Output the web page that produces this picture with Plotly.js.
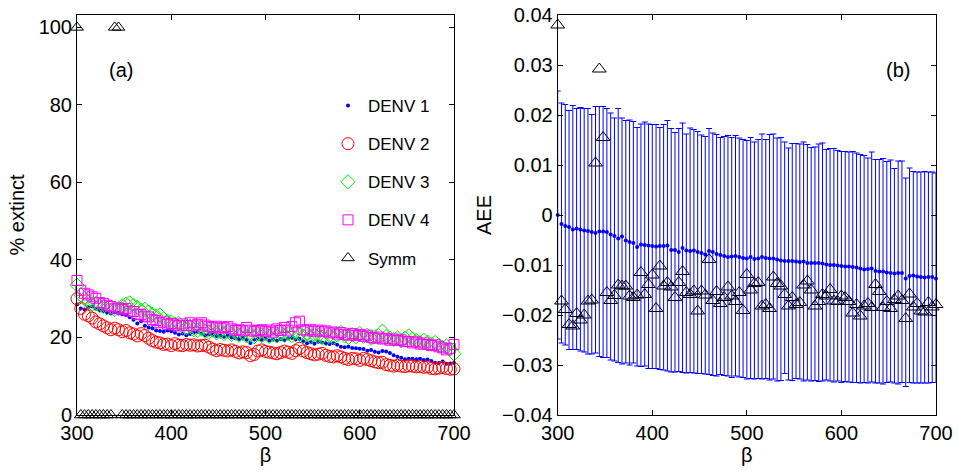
<!DOCTYPE html>
<html>
<head>
<meta charset="utf-8">
<script src="https://cdn.plot.ly/plotly-3.0.1.min.js"></script>
<style>html,body{margin:0;padding:0;background:#fff;}#chart{width:959px;height:473px;}</style>
</head>
<body>
<div id="chart"></div>
<script>
// beta values (x)
const beta = [
300,304,308,312,316,320,324,328,332,336,
340,344,348,352,356,360,364,368,372,376,
380,384,388,392,396,400,404,408,412,416,
420,424,428,432,436,440,444,448,452,456,
460,464,468,472,476,480,484,488,492,496,
500,504,508,512,516,520,524,528,532,536,
540,544,548,552,556,560,564,568,572,576,
580,584,588,592,596,600,604,608,612,616,
620,624,628,632,636,640,644,648,652,656,
660,664,668,672,676,680,684,688,692,696,
700];

// panel (a): % extinct
const denv1 = [
28.5,27.5,27.2,27.8,28.0,27.4,27.0,26.8,26.5,26.2,
26.5,26.3,26.0,25.8,25.2,24.6,23.6,24.2,23.0,22.6,
22.4,21.8,21.7,21.5,21.8,21.6,21.2,20.8,21.0,20.6,
20.9,21.3,21.5,21.0,20.6,20.8,20.7,20.4,20.5,20.2,
20.6,20.0,19.8,19.6,19.9,19.4,18.6,19.5,19.6,19.4,
19.8,19.2,19.5,19.2,19.6,19.3,19.8,19.9,19.5,19.7,
19.0,18.5,18.8,18.4,18.9,18.7,18.5,18.3,18.5,18.1,
17.6,17.5,17.6,17.3,17.2,17.1,17.0,16.6,16.8,16.3,
16.1,16.5,16.4,16.0,15.4,15.0,14.8,14.4,14.5,14.5,
14.4,14.5,14.2,14.3,13.9,13.5,13.4,13.8,13.2,13.3,
13.4];
const denv2 = [
30.0,27.5,26.0,25.6,25.0,24.0,23.5,23.0,22.5,22.0,
22.4,22.0,21.5,21.8,21.2,20.9,20.4,21.0,20.5,19.8,
19.2,18.8,18.6,18.2,18.3,17.9,18.4,18.0,17.9,18.2,
18.0,18.1,17.8,17.9,18.0,17.5,17.0,16.6,16.9,16.7,
16.5,16.8,16.4,16.0,16.3,16.1,15.3,15.6,16.5,16.8,
16.4,16.2,16.0,15.8,16.1,16.5,16.2,15.9,16.6,17.2,
16.5,16.1,15.8,15.5,15.7,15.9,15.4,15.1,15.0,15.3,
15.0,14.6,14.3,14.6,14.5,14.1,14.6,14.3,14.0,13.7,
13.5,13.6,13.0,12.8,12.6,12.8,12.6,12.5,12.7,12.6,
12.4,12.5,12.3,12.4,12.0,11.9,12.1,12.3,12.0,11.8,
11.9];
const denv3 = [
33.5,31.0,30.0,29.2,28.6,28.8,28.2,28.0,27.6,27.8,
27.2,27.5,28.2,28.6,28.9,28.3,27.8,27.0,27.3,26.6,
26.0,25.5,25.8,24.8,24.2,24.0,23.4,23.6,22.8,22.5,
22.9,22.0,21.8,22.4,21.6,21.4,21.9,21.2,21.5,21.0,
21.6,20.8,21.3,20.6,21.0,20.4,20.8,20.2,20.9,20.5,
21.0,20.3,20.8,20.4,21.2,20.6,21.0,20.5,21.4,20.8,
20.3,20.9,20.2,20.7,20.5,20.1,19.6,20.5,20.0,20.6,
21.3,20.4,20.0,20.7,20.2,21.0,20.3,20.6,19.8,20.2,
20.5,21.6,20.2,19.8,19.5,19.9,19.2,19.8,20.4,19.6,
19.2,18.6,19.3,18.8,18.3,18.7,18.0,17.4,17.8,17.0,
15.8];
const denv4 = [
34.7,32.2,31.4,31.0,30.5,30.1,29.0,28.8,28.3,28.0,
27.4,27.6,27.2,27.5,26.8,26.7,26.0,25.9,25.5,25.3,
24.6,24.4,23.8,24.0,23.4,23.6,23.2,23.0,23.5,23.1,
23.8,23.0,23.4,23.8,23.2,22.8,22.6,22.9,22.4,22.6,
22.8,22.2,21.8,22.0,21.7,22.6,21.9,21.6,21.8,22.0,
21.5,21.9,21.4,22.2,21.8,22.6,21.9,22.8,23.8,24.2,
22.0,21.7,22.0,21.6,21.9,21.5,21.7,21.2,21.4,20.9,
21.3,20.8,20.6,21.0,20.5,20.8,20.3,20.6,20.0,19.8,
20.1,19.6,19.8,19.3,19.6,19.2,19.4,18.9,19.0,18.6,
18.9,18.3,18.6,18.2,17.9,18.1,17.6,17.3,16.8,17.2,
18.2];
const symmExtinct = [
100,0,0,0,0,0,0,0,0,0,
100,100,0,0,0,0,0,0,0,0,
0,0,0,0,0,0,0,0,0,0,
0,0,0,0,0,0,0,0,0,0,
0,0,0,0,0,0,0,0,0,0,
0,0,0,0,0,0,0,0,0,0,
0,0,0,0,0,0,0,0,0,0,
0,0,0,0,0,0,0,0,0,0,
0,0,0,0,0,0,0,0,0,0,
0,0,0,0,0,0,0,0,0,0,
0];

// panel (b): AEE
const aeeMean = [
0.0000,-0.0018,-0.0022,-0.0024,-0.0029,-0.0027,-0.0029,-0.0031,-0.0032,-0.0034,
-0.0036,-0.0033,-0.0033,-0.0034,-0.0039,-0.0042,-0.0047,-0.0043,-0.0051,-0.0054,
-0.0056,-0.0064,-0.0059,-0.0060,-0.0061,-0.0062,-0.0063,-0.0062,-0.0062,-0.0061,
-0.0070,-0.0070,-0.0074,-0.0066,-0.0071,-0.0072,-0.0071,-0.0074,-0.0076,-0.0079,
-0.0072,-0.0074,-0.0078,-0.0080,-0.0082,-0.0084,-0.0083,-0.0082,-0.0084,-0.0086,
-0.0087,-0.0084,-0.0088,-0.0087,-0.0084,-0.0086,-0.0087,-0.0087,-0.0089,-0.0091,
-0.0092,-0.0092,-0.0092,-0.0093,-0.0094,-0.0093,-0.0096,-0.0096,-0.0096,-0.0096,
-0.0097,-0.0099,-0.0100,-0.0100,-0.0101,-0.0102,-0.0103,-0.0103,-0.0104,-0.0105,
-0.0107,-0.0109,-0.0108,-0.0107,-0.0112,-0.0113,-0.0113,-0.0115,-0.0116,-0.0117,
-0.0116,-0.0116,-0.0127,-0.0122,-0.0121,-0.0123,-0.0124,-0.0125,-0.0124,-0.0124,
-0.0127];
const aeeUpper = [
0.0248,0.0224,0.0221,0.0209,0.0219,0.0213,0.0215,0.0213,0.0213,0.0201,
0.0217,0.0217,0.0217,0.0213,0.0204,0.0194,0.0213,0.0194,0.0189,0.0190,
0.0187,0.0175,0.0182,0.0186,0.0182,0.0181,0.0181,0.0175,0.0181,0.0189,
0.0173,0.0165,0.0173,0.0184,0.0162,0.0174,0.0171,0.0167,0.0160,0.0157,
0.0173,0.0164,0.0161,0.0155,0.0157,0.0159,0.0155,0.0159,0.0154,0.0151,
0.0149,0.0155,0.0146,0.0151,0.0162,0.0151,0.0161,0.0162,0.0154,0.0155,
0.0146,0.0134,0.0143,0.0143,0.0142,0.0146,0.0141,0.0135,0.0136,0.0142,
0.0144,0.0131,0.0133,0.0133,0.0129,0.0127,0.0127,0.0126,0.0127,0.0124,
0.0121,0.0119,0.0114,0.0126,0.0111,0.0111,0.0113,0.0107,0.0110,0.0093,
0.0108,0.0108,0.0074,0.0094,0.0087,0.0086,0.0086,0.0087,0.0086,0.0086,
0.0084];
const aeeLower = [
-0.0248,-0.0256,-0.0260,-0.0269,-0.0269,-0.0269,-0.0272,-0.0274,-0.0278,-0.0278,
-0.0276,-0.0283,-0.0285,-0.0285,-0.0290,-0.0292,-0.0295,-0.0298,-0.0296,-0.0300,
-0.0296,-0.0302,-0.0303,-0.0302,-0.0307,-0.0307,-0.0307,-0.0309,-0.0310,-0.0312,
-0.0314,-0.0314,-0.0313,-0.0315,-0.0316,-0.0315,-0.0316,-0.0317,-0.0317,-0.0318,
-0.0319,-0.0321,-0.0322,-0.0319,-0.0321,-0.0322,-0.0325,-0.0322,-0.0324,-0.0325,
-0.0328,-0.0327,-0.0328,-0.0327,-0.0328,-0.0327,-0.0330,-0.0328,-0.0332,-0.0331,
-0.0317,-0.0330,-0.0331,-0.0327,-0.0328,-0.0332,-0.0330,-0.0332,-0.0331,-0.0333,
-0.0332,-0.0330,-0.0332,-0.0334,-0.0332,-0.0335,-0.0333,-0.0334,-0.0335,-0.0335,
-0.0336,-0.0335,-0.0336,-0.0334,-0.0336,-0.0336,-0.0338,-0.0335,-0.0334,-0.0336,
-0.0338,-0.0335,-0.0343,-0.0335,-0.0336,-0.0336,-0.0336,-0.0336,-0.0336,-0.0335,
-0.0335];
const symmAEE = [
0.0380,-0.0172,-0.0189,-0.0219,-0.0222,-0.0197,-0.0210,-0.0200,-0.0172,-0.0170,
0.0104,0.0292,0.0155,-0.0155,-0.0171,-0.0161,-0.0140,-0.0142,-0.0142,-0.0162,
-0.0165,-0.0160,-0.0115,-0.0159,-0.0139,-0.0120,-0.0187,-0.0102,-0.0142,-0.0135,
-0.0144,-0.0165,-0.0135,-0.0113,-0.0155,-0.0159,-0.0152,-0.0192,-0.0152,-0.0160,
-0.0089,-0.0171,-0.0153,-0.0177,-0.0165,-0.0144,-0.0162,-0.0173,-0.0155,-0.0191,
-0.0119,-0.0150,-0.0137,-0.0135,-0.0182,-0.0179,-0.0187,-0.0124,-0.0137,-0.0142,
-0.0159,-0.0182,-0.0165,-0.0179,-0.0175,-0.0140,-0.0132,-0.0150,-0.0182,-0.0173,
-0.0159,-0.0162,-0.0149,-0.0172,-0.0173,-0.0162,-0.0165,-0.0173,-0.0196,-0.0179,
-0.0202,-0.0182,-0.0177,-0.0185,-0.0139,-0.0153,-0.0185,-0.0173,-0.0187,-0.0169,
-0.0162,-0.0171,-0.0207,-0.0158,-0.0184,-0.0177,-0.0192,-0.0194,-0.0175,-0.0184,
-0.0179];

const seriesNames = ['DENV 1','DENV 2','DENV 3','DENV 4','Symm'];
const xTicks = [300,400,500,600,700];
const yTicksA = [0,20,40,60,80,100];

const FONT = 'Liberation Sans, Arial, Helvetica, sans-serif';
const errPlus = aeeUpper.map((u,i)=>u-aeeMean[i]);
const errMinus = aeeMean.map((m,i)=>m-aeeLower[i]);

const traces = [
  {x:beta,y:denv1,name:seriesNames[0],type:'scatter',mode:'markers',legendgroup:'g1',cliponaxis:false,
   marker:{symbol:'circle',size:4,color:'#0000ff'}},
  {x:beta,y:denv2,name:seriesNames[1],type:'scatter',mode:'markers',legendgroup:'g2',cliponaxis:false,
   marker:{symbol:'circle-open',size:12,color:'#ff0000',line:{width:1}}},
  {x:beta,y:denv3,name:seriesNames[2],type:'scatter',mode:'markers',legendgroup:'g3',cliponaxis:false,
   marker:{symbol:'diamond-open',size:11,color:'#00ee00',line:{width:1}}},
  {x:beta,y:denv4,name:seriesNames[3],type:'scatter',mode:'markers',legendgroup:'g4',cliponaxis:false,
   marker:{symbol:'square-open',size:10,color:'#ff00ff',line:{width:1}}},
  {x:beta,y:symmExtinct,name:seriesNames[4],type:'scatter',mode:'markers',legendgroup:'g5',cliponaxis:false,
   marker:{symbol:'triangle-up-open',size:11,color:'#000000',line:{width:1}}},
  {x:beta,y:aeeMean,xaxis:'x2',yaxis:'y2',type:'scatter',mode:'markers',showlegend:false,cliponaxis:false,
   marker:{symbol:'circle',size:4,color:'#0000ff'},
   error_y:{type:'data',symmetric:false,array:errPlus,arrayminus:errMinus,color:'#0000ff',thickness:1,width:3}},
  {x:beta,y:symmAEE,xaxis:'x2',yaxis:'y2',type:'scatter',mode:'markers',showlegend:false,cliponaxis:false,
   marker:{symbol:'triangle-up-open',size:12,color:'#000000',line:{width:1}}}
];

const axBase = {showline:true,linecolor:'#000',linewidth:1,mirror:'ticks',ticks:'inside',ticklen:5,tickcolor:'#000',
  showgrid:false,zeroline:false,tickfont:{family:FONT,size:20,color:'#000'},automargin:false};

const yDom = [58/473, 458/473];
const layout = {
  width:959,height:473,margin:{l:0,r:0,t:0,b:0},paper_bgcolor:'#fff',plot_bgcolor:'#fff',
  font:{family:FONT,color:'#000'},
  xaxis:Object.assign({},axBase,{domain:[77/959,454/959],range:[300,700],tickmode:'array',tickvals:xTicks,anchor:'y',
    title:{text:'β',font:{family:FONT,size:20},standoff:2}}),
  yaxis:Object.assign({},axBase,{domain:yDom,range:[0,103.2],tickmode:'array',tickvals:yTicksA,anchor:'x',
    title:{text:'% extinct',font:{family:FONT,size:20},standoff:8}}),
  xaxis2:Object.assign({},axBase,{domain:[557.7/959,936/959],range:[300,700],tickmode:'array',tickvals:xTicks,anchor:'y2',
    title:{text:'β',font:{family:FONT,size:20},standoff:2}}),
  yaxis2:Object.assign({},axBase,{domain:yDom,range:[-0.04,0.04],tickmode:'linear',tick0:0,dtick:0.01,anchor:'x2',
    title:{text:'AEE',font:{family:FONT,size:20},standoff:5}}),
  legend:{x:328/959,y:(473-88)/473,xanchor:'left',yanchor:'top',bgcolor:'rgba(0,0,0,0)',borderwidth:0,
    font:{family:FONT,size:17,color:'#000'},tracegroupgap:13,traceorder:'grouped'},
  annotations:[
    {text:'(a)',xref:'paper',yref:'paper',x:107/959,y:(473-57)/473,showarrow:false,font:{family:FONT,size:20}},
    {text:'(b)',xref:'paper',yref:'paper',x:912/959,y:(473-57)/473,showarrow:false,font:{family:FONT,size:20}}
  ],
  showlegend:true
};

Plotly.newPlot('chart',traces,layout,{displayModeBar:false,staticPlot:true});
</script>
</body>
</html>
